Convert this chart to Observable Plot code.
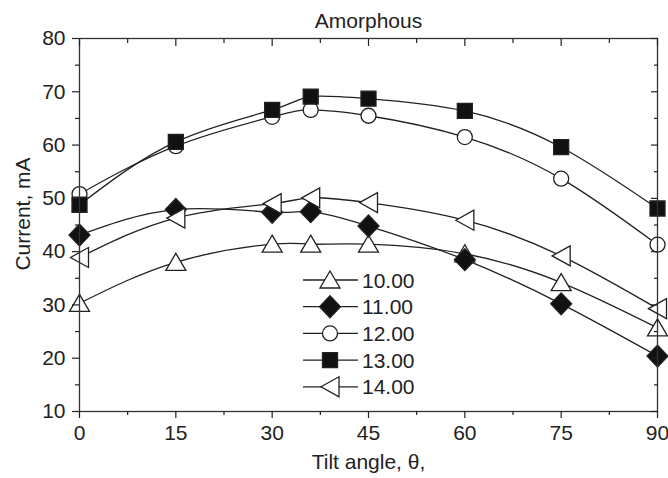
<!DOCTYPE html>
<html><head><meta charset="utf-8">
<script src="https://cdn.jsdelivr.net/npm/d3@7"></script>
<script src="https://cdn.jsdelivr.net/npm/@observablehq/plot@0.6"></script>
<style>
body{margin:0;background:#fff;}
#wrap{position:relative;width:668px;height:478px;font-family:"Liberation Sans",Arial,sans-serif;}
</style></head><body><div id="wrap"></div>
<script>
// ---- data ----
const angles = [0, 15, 30, 36, 45, 60, 75, 90];
const seriesNames = ["10.00", "11.00", "12.00", "13.00", "14.00"];
const s10 = [30.3, 38.0, 41.4, 41.4, 41.4, 39.6, 34.2, 25.7];
const s11 = [43.1, 47.9, 47.4, 47.5, 44.8, 38.5, 30.2, 20.4];
const s12 = [50.8, 59.8, 65.3, 66.6, 65.5, 61.5, 53.7, 41.3];
const s13 = [48.8, 60.6, 66.6, 69.1, 68.7, 66.4, 59.6, 48.1];
const s14 = [38.9, 46.3, 49.0, 50.1, 49.2, 45.9, 39.2, 29.3];
const xTicks = [0, 15, 30, 45, 60, 75, 90];
const xMinor = [7.5, 22.5, 37.5, 52.5, 67.5, 82.5];
const yTicks = [10, 20, 30, 40, 50, 60, 70, 80];
const yMinor = [15, 25, 35, 45, 55, 65, 75];
const titleText = "Amorphous";
const xLabel = "Tilt angle, θ,";
const yLabel = "Current, mA";

// ---- marker shapes ----
const symUp = {draw(c){ c.moveTo(0,-9); c.lineTo(10,8); c.lineTo(-10,8); c.closePath(); }};
const symLeft = {draw(c){ c.moveTo(-9,0); c.lineTo(9,-10); c.lineTo(9,10); c.closePath(); }};
const symDiamond = {draw(c){ c.moveTo(0,-11); c.lineTo(10.5,0); c.lineTo(0,11); c.lineTo(-10.5,0); c.closePath(); }};
const symCircle = {draw(c){ c.moveTo(7.5,0); c.arc(0,0,7.5,0,2*Math.PI); c.closePath(); }};
const symSquare = {draw(c){ c.rect(-7.5,-7.5,15,15); }};

const values = [s10, s11, s12, s13, s14];
const symbols = [symUp, symDiamond, symCircle, symSquare, symLeft];
const fills = ["#fff", "#111", "#fff", "#111", "#fff"];
const series = seriesNames.map((name, i) => ({
  name, symbol: symbols[i], fill: fills[i],
  rows: angles.map((a, j) => ({angle: a, value: values[i][j], series: name}))
}));

const INK = "#222";
const chart = Plot.plot({
  width: 668, height: 478,
  marginLeft: 79, marginRight: 11, marginTop: 38, marginBottom: 67,
  x: {domain: [0, 90]},
  y: {domain: [10, 80]},
  style: {fontFamily: '"Liberation Sans", Arial, sans-serif', fontSize: "21px", color: INK, background: "#fff"},
  marks: [
    ...series.map(s => Plot.line(s.rows, {x: "angle", y: "value", curve: "natural", stroke: INK, strokeWidth: 1.3})),
    ...series.map(s => Plot.dot(s.rows, {x: "angle", y: "value", symbol: s.symbol, r: 7, fill: s.fill, stroke: INK, strokeWidth: 1.3})),
    Plot.frame({stroke: "#333", strokeWidth: 1.3}),
    Plot.axisX(xTicks, {anchor: "bottom", tickSize: 0, tickPadding: 14, label: null, fontSize: 21}),
    Plot.axisX(xTicks, {anchor: "bottom", tickSize: 7, fill: "none", label: null, strokeWidth: 1.2}),
    Plot.axisX(xMinor, {anchor: "bottom", tickSize: 4, fill: "none", label: null, strokeWidth: 1.2}),
    Plot.axisX(xTicks, {anchor: "top", tickSize: -7, fill: "none", label: null, strokeWidth: 1.2}),
    Plot.axisX(xMinor, {anchor: "top", tickSize: -4, fill: "none", label: null, strokeWidth: 1.2}),
    Plot.axisY(yTicks, {anchor: "left", tickSize: 0, tickPadding: 14, label: null, fontSize: 21}),
    Plot.axisY(yTicks, {anchor: "left", tickSize: 7, fill: "none", label: null, strokeWidth: 1.2}),
    Plot.axisY(yMinor, {anchor: "left", tickSize: 4, fill: "none", label: null, strokeWidth: 1.2}),
    Plot.axisY(yTicks, {anchor: "right", tickSize: -7, fill: "none", label: null, strokeWidth: 1.2}),
    Plot.axisY(yMinor, {anchor: "right", tickSize: -4, fill: "none", label: null, strokeWidth: 1.2}),
    Plot.text([titleText], {text: d => d, frameAnchor: "top", lineAnchor: "middle", textAnchor: "middle", dy: -17, fontSize: 21, fill: INK}),
    Plot.text([xLabel], {text: d => d, frameAnchor: "bottom", lineAnchor: "middle", textAnchor: "middle", dy: 51, fontSize: 21, fill: INK}),
    Plot.text([yLabel], {text: d => d, frameAnchor: "left", lineAnchor: "middle", textAnchor: "middle", rotate: -90, dx: -56, dy: -11, fontSize: 21, fill: INK})
  ]
});

const wrap = document.getElementById("wrap");
wrap.appendChild(chart);

// ---- legend overlay ----
const legend = d3.create("svg")
  .attr("width", 140).attr("height", 140)
  .style("position", "absolute").style("left", "296px").style("top", "263px")
  .style("overflow", "visible");
series.forEach((s, i) => {
  const g = legend.append("g").attr("transform", `translate(0,${17 + i * 26.7})`);
  g.append("line").attr("x1", 7).attr("x2", 62).attr("stroke", INK).attr("stroke-width", 1.3);
  g.append("path").attr("transform", "translate(34,0)")
    .attr("d", d3.symbol().type(s.symbol)())
    .attr("fill", s.fill).attr("stroke", INK).attr("stroke-width", 1.3);
  g.append("text").attr("x", 66).attr("dy", "0.36em")
    .attr("font-family", '"Liberation Sans", Arial, sans-serif')
    .attr("font-size", 21).attr("fill", INK).text(s.name);
});
wrap.appendChild(legend.node());
</script>
</body></html>
